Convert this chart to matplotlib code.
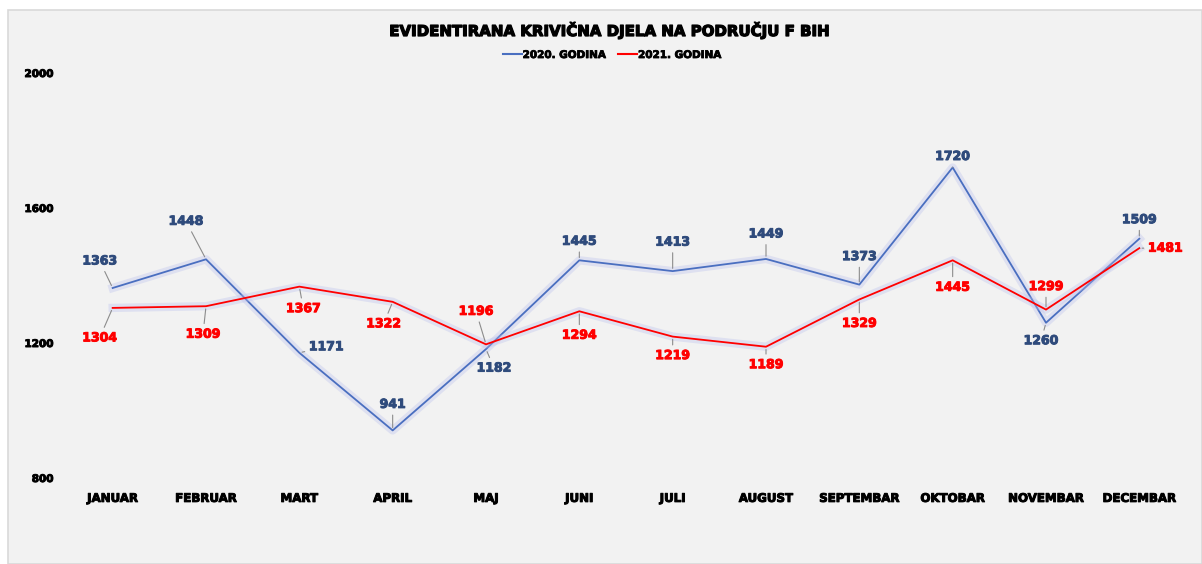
import matplotlib
matplotlib.use("Agg")
import matplotlib.pyplot as plt
import matplotlib.patheffects as pe
from matplotlib.patches import Rectangle
from matplotlib.lines import Line2D

months = ["JANUAR", "FEBRUAR", "MART", "APRIL", "MAJ", "JUNI", "JULI",
          "AUGUST", "SEPTEMBAR", "OKTOBAR", "NOVEMBAR", "DECEMBAR"]
values_2020 = [1363, 1448, 1171, 941, 1182, 1445, 1413, 1449, 1373, 1720, 1260, 1509]
values_2021 = [1304, 1309, 1367, 1322, 1196, 1294, 1219, 1189, 1329, 1445, 1299, 1481]
series_names = ["2020. GODINA", "2021. GODINA"]
title = "EVIDENTIRANA KRIVIČNA DJELA NA PODRUČJU F BIH"
yticks = [800, 1200, 1600, 2000]

# label offsets in pixels (dx, dy with +dy downward) — layout only
off_2020 = [(-13, -27), (-20, -38), (27, -6), (0, -26), (8, 19), (0, -19),
            (0, -29), (0, -25), (0, -28), (0, -11), (-5, 18), (0, -19)]
off_2021 = [(-13, 30), (-3, 28), (4, 22), (-9, 22), (-10, -33), (0, 24),
            (0, 19), (0, 18), (0, 24), (0, 27), (0, -23), (26, 0)]

W, H = 1202, 564
fig = plt.figure(figsize=(W / 100, H / 100), dpi=100)
fig.patch.set_facecolor("white")
bg = Rectangle((8 / W, 0), 1 - 8 / W, 1 - 10 / H, transform=fig.transFigure,
               facecolor="#f2f2f2", edgecolor="#d9d9d9", linewidth=1.2, zorder=-10)
fig.patches.append(bg)

heavy = [pe.withStroke(linewidth=0.9, foreground="black")]

ax = fig.add_axes([66 / W, 1 - 478 / H, (1186 - 66) / W, (478 - 73) / H])
ax.set_facecolor("none")
ax.set_zorder(1)
x = list(range(len(months)))
c20, c21 = "#4a6fc0", "#FF0000"
glow = [pe.Stroke(linewidth=6, foreground="#b9bfee", alpha=0.35), pe.Normal()]
ax.plot(x, values_2020, color=c20, lw=1.3, path_effects=glow, zorder=3)
ax.plot(x, values_2021, color=c21, lw=1.3, path_effects=glow, zorder=4)

ax.set_xlim(-0.5, len(months) - 0.5)
ax.set_ylim(800, 2000)
ax.set_yticks(yticks)
ax.set_yticklabels([str(v) for v in yticks], fontsize=7.5, fontweight="bold", family="DejaVu Sans")
ax.set_xticks(x)
ax.set_xticklabels(months, fontsize=8.5, fontweight="bold", family="DejaVu Sans")
for t in ax.get_xticklabels() + ax.get_yticklabels():
    t.set_path_effects([pe.withStroke(linewidth=0.7, foreground="black")])
ax.tick_params(axis="both", length=0)
ax.tick_params(axis="y", pad=9)
ax.tick_params(axis="x", pad=10)
for s in ax.spines.values():
    s.set_visible(False)

def label(vals, offs, color):
    for i, (v, (dx, dy)) in enumerate(zip(vals, offs)):
        ax.annotate(str(v), xy=(i, v), xytext=(dx * 0.72, -dy * 0.72), textcoords="offset points",
                    ha="center", va="center", fontsize=9, fontweight="bold", color=color,
                    family="DejaVu Sans", zorder=6,
                    path_effects=[pe.withStroke(linewidth=0.7, foreground=color)],
                    arrowprops=dict(arrowstyle="-", color="#8c8c8c", lw=0.8,
                                    shrinkA=1, shrinkB=2))

label(values_2020, off_2020, "#2f4b7c")
label(values_2021, off_2021, "#ff0000")

fig.text(610 / W, 1 - 30 / H, title, ha="center", va="center", fontsize=10.8,
         fontweight="bold", family="DejaVu Sans", path_effects=heavy)
handles = [Line2D([], [], color=c20, lw=1.5), Line2D([], [], color=c21, lw=1.5)]
leg = fig.legend(handles, series_names, loc="center", bbox_to_anchor=(612 / W, 1 - 55 / H), ncol=2,
                 frameon=False, prop={"size": 7.5, "weight": "bold", "family": "DejaVu Sans"},
                 handlelength=1.8, handletextpad=0.1, columnspacing=1.2)
for t in leg.get_texts():
    t.set_path_effects([pe.withStroke(linewidth=0.6, foreground="black")])

fig.savefig("out.png", dpi=100, facecolor=fig.get_facecolor())
